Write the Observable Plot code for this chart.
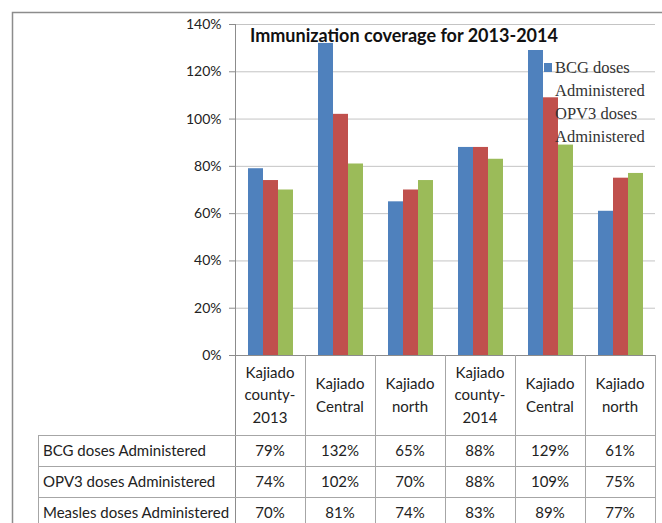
<!DOCTYPE html>
<html><head><meta charset="utf-8">
<script src="https://cdn.jsdelivr.net/npm/d3@7"></script>
<script src="https://cdn.jsdelivr.net/npm/@observablehq/plot@0.6"></script>
<style>body{margin:0;background:#fff} svg{display:block}</style>
</head><body><div id="chart"></div>
<script>
const categoryIds = ["c0","c1","c2","c3","c4","c5"];
const categoryLines = [["Kajiado","county-","2013"],["Kajiado","Central"],["Kajiado","north"],["Kajiado","county-","2014"],["Kajiado","Central"],["Kajiado","north"]];
const seriesNames = ["BCG doses Administered","OPV3 doses Administered","Measles doses Administered"];
const bcg = [0.79, 1.32, 0.65, 0.88, 1.29, 0.61];
const opv3 = [0.74, 1.02, 0.70, 0.88, 1.09, 0.75];
const measles = [0.70, 0.81, 0.74, 0.83, 0.89, 0.77];
const seriesColors = ["#4F81BD","#C0504D","#9BBB59"];
const yTicks = [0, 0.2, 0.4, 0.6, 0.8, 1.0, 1.2, 1.4];
const legendLines = [["BCG doses","Administered"],["OPV3 doses","Administered"]];
const title = "Immunization coverage for 2013-2014";

const seriesValues = [bcg, opv3, measles];
const data = seriesNames.flatMap((s, si) => categoryIds.map((c, ci) => ({cat: c, series: s, value: seriesValues[si][ci]})));

const W = 662, H = 523, ML = 232, MR = 5, MT = 24, MB = 168;
const pct = d3.format(".0%");

const plot = Plot.plot({
  width: W, height: H,
  marginLeft: ML, marginRight: MR, marginTop: MT, marginBottom: MB,
  style: {fontFamily: "Lato", fontSize: "14px", color: "#222", background: "#fff"},
  fx: {domain: categoryIds, padding: 0, axis: null},
  x: {domain: seriesNames, paddingInner: 0, paddingOuter: 0.75, axis: null},
  y: {domain: [0, 1.4], axis: null},
  color: {domain: seriesNames, range: seriesColors},
  marks: [
    Plot.ruleY(yTicks.slice(1), {stroke: "#c4c4c4", strokeWidth: 1}),
    Plot.barY(data, {fx: "cat", x: "series", y: "value", fill: "series"}),
    Plot.ruleY([0], {stroke: "#8c8c8c", strokeWidth: 1}),
    Plot.axisY({ticks: yTicks, tickFormat: pct, tickSize: 6, tickPadding: 8, fontSize: 14, stroke: "#8c8c8c", fill: "#222", label: null})
  ]
});

const svg = d3.select(plot);
const fx = plot.scale("fx");
const y = plot.scale("y");
const bw = fx.bandwidth;
const left = fx.apply(categoryIds[0]);
const right = fx.apply(categoryIds[categoryIds.length - 1]) + bw;
const y0 = y.apply(0), yTop = y.apply(1.4);
const headerH = 80, rowH = 31, tableLeft = 38;
const lineColor = "#a6a6a6";

const g = svg.append("g").attr("font-family", "Lato").attr("fill", "#222").attr("text-anchor", "start");
// outer chart border
g.append("rect").attr("x", 12.5).attr("y", 12.5).attr("width", W + 20).attr("height", H + 20)
  .attr("fill", "none").attr("stroke", "#8c8c8c").attr("stroke-width", 1.5);
// axis line
g.append("line").attr("x1", left + 0.5).attr("x2", left + 0.5).attr("y1", yTop).attr("y2", H)
  .attr("stroke", "#8c8c8c");
// category separators and right border
categoryIds.forEach((c, i) => {
  const x = fx.apply(c) + bw;
  g.append("line").attr("x1", x + 0.5).attr("x2", x + 0.5).attr("y1", y0).attr("y2", H).attr("stroke", lineColor);
});
// table horizontal lines
for (let r = 0; r <= seriesNames.length; r++) {
  const yy = y0 + headerH + r * rowH;
  g.append("line").attr("x1", tableLeft).attr("x2", right + 0.5).attr("y1", yy + 0.5).attr("y2", yy + 0.5).attr("stroke", lineColor);
}
g.append("line").attr("x1", tableLeft + 0.5).attr("x2", tableLeft + 0.5).attr("y1", y0 + headerH).attr("y2", H).attr("stroke", lineColor);

// category labels
categoryIds.forEach((c, i) => {
  const cx = fx.apply(c) + bw / 2;
  const lines = categoryLines[i];
  const lh = 22.5;
  const cy = y0 + headerH / 2;
  lines.forEach((t, k) => {
    g.append("text").attr("x", cx).attr("y", cy + (k - (lines.length - 1) / 2) * lh)
      .attr("dy", "0.35em").attr("text-anchor", "middle").attr("font-size", 15).text(t);
  });
});
// table rows
seriesNames.forEach((s, si) => {
  const cy = y0 + headerH + si * rowH + rowH / 2;
  g.append("text").attr("x", tableLeft + 5).attr("y", cy).attr("dy", "0.35em").attr("font-size", 15).text(s);
  categoryIds.forEach((c, ci) => {
    g.append("text").attr("x", fx.apply(c) + bw / 2).attr("y", cy).attr("dy", "0.35em")
      .attr("text-anchor", "middle").attr("font-size", 15).text(pct(seriesValues[si][ci]));
  });
});
// title
g.append("text").attr("x", left + 15).attr("y", yTop + 18).attr("font-size", 18).attr("font-weight", "bold")
  .attr("fill", "#111").text(title);
// legend
legendLines.forEach((ls, i) => {
  const top = yTop + 39 + i * 46;
  g.append("rect").attr("x", 544).attr("y", top).attr("width", 8).attr("height", 9).attr("fill", seriesColors[i]);
  ls.forEach((t, k) => {
    g.append("text").attr("x", 555).attr("y", top + 10 + k * 23)
      .style("font-family", "'Liberation Serif', 'DejaVu Serif', serif")
      .style("font-size", "16.5px").attr("fill", "#333").text(t);
  });
});

document.getElementById("chart").appendChild(plot);
</script>
</body></html>
